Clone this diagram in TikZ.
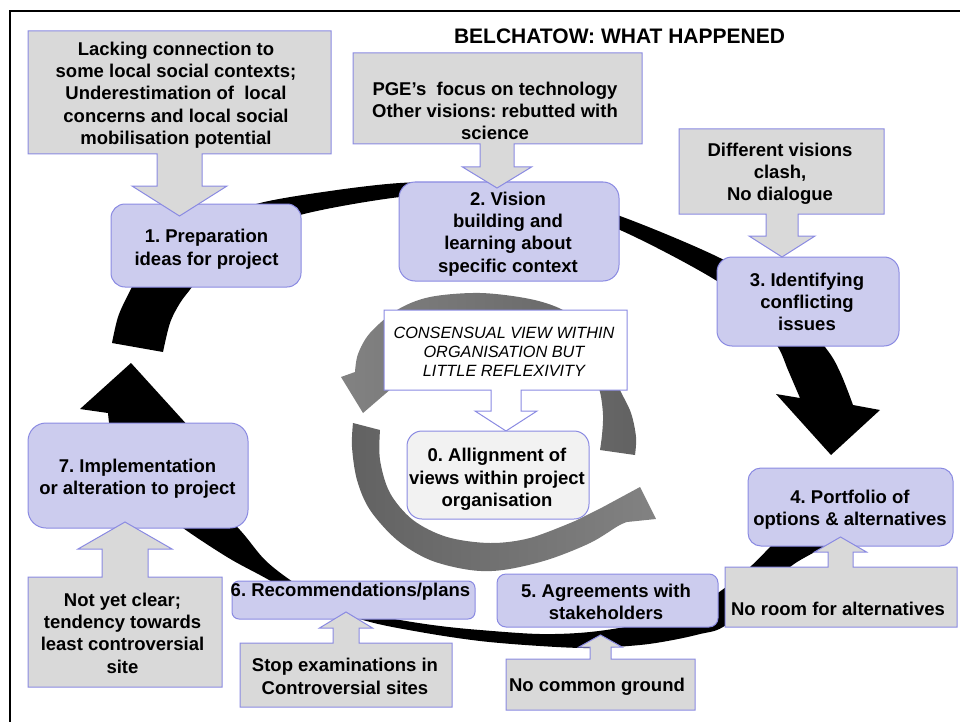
\documentclass[tikz,border=0pt]{standalone}
\usepackage{fontspec}
\setmainfont{Liberation Sans}
\definecolor{lav}{RGB}{204,204,238}
\definecolor{notegray}{RGB}{217,217,217}
\definecolor{edgeblue}{RGB}{138,138,226}
\definecolor{paler}{RGB}{242,242,242}
\definecolor{ringlight}{RGB}{130,130,130}
\definecolor{ringdark}{RGB}{98,98,98}
% rectangle with an arrow on one side:
% #1,#2 left/right x, #3 far edge y, #4 edge carrying the arrow,
% #5 arrow axis x, #6 stem half width, #7 head half width, #8 head base y, #9 tip y
\newcommand\calloutpath[9]{%
  (#1,#3) -- (#2,#3) -- (#2,#4) -- ({#5+#6},#4) -- ({#5+#6},#8) -- ({#5+#7},#8)
  -- (#5,#9) -- ({#5-#7},#8) -- ({#5-#6},#8) -- ({#5-#6},#4) -- (#1,#4) -- cycle}
\begin{document}
\frenchspacing
\begin{tikzpicture}[x=1pt,y=-1pt,
  stagebox/.style={draw=edgeblue, fill=lav, line width=1pt, inner sep=0pt},
  notebox/.style={draw=edgeblue, fill=notegray, line width=1pt},
  boldtext/.style={font=\bfseries\fontsize{18.5pt}{22.3pt}\selectfont, align=center, inner sep=0pt, anchor=north},
  slanttext/.style={font=\itshape\fontsize{16.3pt}{19pt}\selectfont, align=center, inner sep=0pt, anchor=north},
  bigring/.style={fill=black},
]
\useasboundingbox (0,0) rectangle (960,722);

% frame
\draw[line width=1.5pt] (10,730) -- (10,11) -- (970,11);

% outer cycle: upper arrow (1 -> 4)
\fill[bigring] plot[smooth, tension=0.55] coordinates {(112,343) (118,317) (128,295) (140,275) (175,243) (215,220) (260,203) (330,191) (400,183) (460,183) (540,192) (620,216) (720,258) (780,295) (825,347) (840,372) (853,405)}
  -- (880,410) -- (831,455) -- (776,394)
  -- plot[smooth, tension=0.55] coordinates {(800,398) (788,370) (778,347) (755,315) (717,281) (620,230) (540,203) (470,195) (400,197) (300,215) (240,240) (205,268) (192,287) (180,303) (170,323) (163,352)}
  -- cycle;

% outer cycle: lower arrow (4 -> 1)
\fill[bigring] plot[smooth, tension=0.55] coordinates {(870,515) (823,547) (790,567) (760,598) (723,627) (700,634) (673,640) (640,645) (590,648) (540,646) (480,641) (420,632) (363,620) (300,596) (260,575) (227,557) (183,528) (155,505) (130,475) (113,443) (108,413)}
  -- (80,409) -- (131,363) -- (190,428)
  -- plot[smooth, tension=0.55] coordinates {(160,423) (175,455) (205,495) (240,530) (265,560) (293,582) (320,598) (360,612) (400,620) (440,626) (480,630) (540,634) (590,632) (640,624) (690,610) (722,590) (750,567) (770,547) (800,515)}
  -- cycle;

% inner cycle around stage 0
\shade[left color=ringlight, right color=ringdark] plot[smooth, tension=0.55] coordinates {(635,455) (636,437) (631,413) (620,390) (605,357) (585,328) (563,310) (530,299) (480,293) (430,297) (397,310) (370,333) (358,354) (355,372)}
  -- (341,377) -- (363,413) -- (392,388)
  -- plot[smooth, tension=0.55] coordinates {(386,383) (393,363) (410,344) (435,329) (468,319) (505,317) (545,325) (575,345) (592,370) (600,392) (603,415) (602,435) (600,450)}
  -- cycle;
\shade[left color=ringdark, right color=ringlight] plot[smooth, tension=0.55] coordinates {(353,423) (352,447) (357,480) (370,510) (397,540) (430,560) (470,570) (503,570) (547,560) (590,543) (618,526) (627,522)}
  -- (656,519) -- (640,487) -- (603,507)
  -- plot[smooth, tension=0.55] coordinates {(575,521) (530,538) (490,543) (447,537) (413,520) (390,493) (380,460) (380,430)}
  -- cycle;

% comment on stage 0
\draw[notebox, fill=white] \calloutpath{384}{627}{310}{390}{506}{15}{31}{411}{431};

% stages
\node[stagebox, fill=paler, rounded corners=15pt, minimum width=182pt, minimum height=88pt] (s0) at (498,475) {};
\node[stagebox, rounded corners=14pt, minimum width=190pt, minimum height=83pt] (s1) at (206,245.5) {};
\node[stagebox, rounded corners=16pt, minimum width=220pt, minimum height=99pt] (s2) at (509,231.5) {};
\node[stagebox, rounded corners=15pt, minimum width=182pt, minimum height=89pt] (s3) at (808,301.5) {};
\node[stagebox, rounded corners=13pt, minimum width=205pt, minimum height=78pt] (s4) at (850.5,507) {};
\node[stagebox, rounded corners=9pt, minimum width=221pt, minimum height=53pt] (s5) at (607.5,600.5) {};
\node[stagebox, rounded corners=7pt, minimum width=243pt, minimum height=38pt] (s6) at (353.5,600) {};
\node[stagebox, rounded corners=18pt, minimum width=220pt, minimum height=105pt] (s7) at (138,475.5) {};

% what happened at each stage
\draw[notebox] \calloutpath{28}{331}{31}{154}{179.5}{22.5}{47.5}{186}{216};
\draw[notebox] \calloutpath{353}{642}{53}{144}{497}{17}{34.5}{167}{188};
\draw[notebox] \calloutpath{679}{884}{129}{214}{782}{16}{33}{236}{257};
\draw[notebox] \calloutpath{725}{957}{627}{567}{840.5}{12.5}{26}{552}{537};
\draw[notebox] \calloutpath{506}{695}{710}{659}{600.5}{10.5}{21.5}{647}{635};
\draw[notebox] \calloutpath{240}{452}{707}{643}{346}{13}{26.5}{628}{612};
\draw[notebox] \calloutpath{28}{222}{687}{577}{125}{23}{47}{549}{522};

% texts
\node[font=\bfseries\fontsize{21pt}{25pt}\selectfont, inner sep=0pt, anchor=north] (title) at (619.5,29) {BELCHATOW: WHAT HAPPENED};

\node[boldtext] (t0) at (497,448.3) {0. Allignment of\\views within project\\organisation};
\node[boldtext] (t1) at (206.5,229.3) {1. Preparation\\ideas for project};
\node[boldtext] (t2) at (508,191.7) {2. Vision\\building and\\learning about\\specific context};
\node[boldtext] (t3) at (807,272.7) {3. Identifying\\conflicting\\issues};
\node[boldtext] (t4) at (850,490) {4. Portfolio of\\options \& alternatives};
\node[boldtext] (t5) at (606,584) {5. Agreements with\\stakeholders};
\node[boldtext] (t6) at (350.5,583.3) {6. Recommendations/plans};
\node[boldtext] (t7) at (137.5,459) {7. Implementation\\or alteration to project};

\node[slanttext] (c0) at (504,326.7) {CONSENSUAL VIEW WITHIN\\ORGANISATION BUT\\LITTLE REFLEXIVITY};
\node[boldtext] (n1) at (176,41.7) {Lacking connection to\\some local social contexts;\\Underestimation of\ \ local\\concerns and local social\\mobilisation potential};
\node[boldtext] (n2) at (495,81.7) {PGE’s\ \ focus on technology\\Other visions: rebutted with\\science};
\node[boldtext] (n3) at (780,142.7) {Different visions\\clash,\\No dialogue};
\node[boldtext] (n4) at (838,601.7) {No room for alternatives};
\node[boldtext] (n5) at (597,678.3) {No common ground};
\node[boldtext] (n6) at (345,658.3) {Stop examinations in\\Controversial sites};
\node[boldtext] (n7) at (122.5,592.7) {Not yet clear;\\tendency towards\\least controversial\\site};
\end{tikzpicture}
\end{document}
